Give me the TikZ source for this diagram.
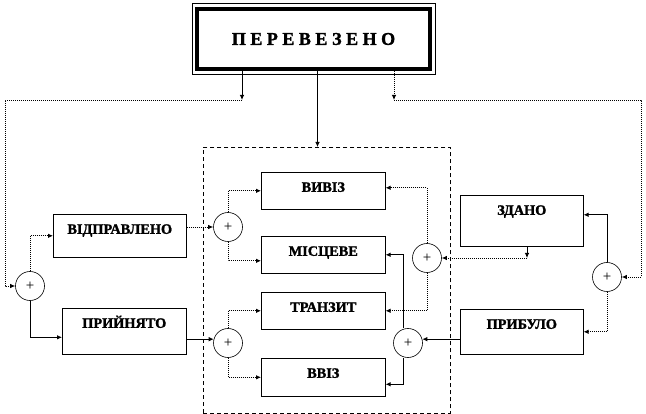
\documentclass[tikz,border=0pt]{standalone}
\usepackage{fontspec}
\setmainfont{Liberation Serif}[BoldFeatures={FakeBold=1.5}]
\newfontfamily\widefont{Liberation Serif}[LetterSpace=25,BoldFeatures={FakeBold=1.5}]
\usetikzlibrary{arrows.meta}

\begin{document}
\begin{tikzpicture}[%
  x=1pt, y=1pt,
  >={Latex[length=5pt,width=4.5pt]},
  line width=0.8pt,
  dots/.style={dash pattern=on 1pt off 1pt},
  block/.style={draw, line width=0.6pt, anchor=north west, inner sep=0pt,
    minimum width=124pt, text height=19.5pt,
    font=\bfseries\fontsize{14.3}{14.3}\selectfont},
  sum/.style={circle, draw, line width=0.6pt, minimum size=29pt, inner sep=0pt,
    font=\fontsize{15}{15}\selectfont}]
  \useasboundingbox (0,0) rectangle (646,-414);
  \node[draw, line width=4pt, minimum width=233pt, minimum height=60pt,
    font=\widefont\bfseries\fontsize{18}{18}\selectfont] (total) at (313.5,-39) {ПЕРЕВЕЗЕНО};
  \draw[line width=0.6pt] ([shift={(-3,3.5)}]total.north west) rectangle ([shift={(3,-3.5)}]total.south east);
  \node[draw, line width=0.6pt, dash pattern=on 4pt off 3pt, anchor=north west,
    minimum width=247pt, minimum height=266pt, inner sep=0pt] (frame) at (203,-147) {};
  \node[block, minimum width=133pt, text depth=23.5pt] (sent) at (53,-214) {ВІДПРАВЛЕНО};
  \node[block, text depth=26.5pt] (taken) at (62,-308) {ПРИЙНЯТО};
  \node[block, text depth=17.5pt] (export) at (261,-172) {ВИВІЗ};
  \node[block, text depth=17.5pt] (local) at (261,-236) {МІСЦЕВЕ};
  \node[block, text depth=17.5pt] (transit) at (261,-292) {ТРАНЗИТ};
  \node[block, text depth=18.5pt] (import) at (261,-358) {ВВІЗ};
  \node[block, minimum width=123pt, text depth=31.5pt] (handed) at (460,-195) {ЗДАНО};
  \node[block, minimum width=123pt, text depth=25.5pt] (arrived) at (460,-309) {ПРИБУЛО};
  \node[sum] (sumL) at (30,-286) {+};
  \node[sum] (sumA) at (228,-227) {+};
  \node[sum] (sumB) at (228,-343) {+};
  \node[sum] (sumC) at (427,-258) {+};
  \node[sum] (sumD) at (408,-343) {+};
  \node[sum] (sumR) at (607,-277) {+};
  \coordinate (forkL) at (242,-100);
  \coordinate (forkR) at (394,-100);
  \coordinate (edgeL) at (5,-100);
  \coordinate (edgeR) at (641,-100);
  \coordinate (drop) at (527,-258);
  \draw[->] (total.south -| forkL) -- (forkL);
  \draw[dots,->] (total.south -| forkR) -- (forkR);
  \draw[->] ([xshift=4pt]total.south) -- ([xshift=4pt]total.south |- frame.north);
  \draw[dots,->] (forkL) -- (edgeL) |- (sumL.west);
  \draw[dots,->] (forkR) -- (edgeR) |- (sumR.east);
  \draw[dots,->] (sumL.north) |- (sent.west);
  \draw[->] (sumL.south) |- ([yshift=-6pt]taken.west);
  \draw[dots,->] (sent.east |- sumA.west) -- (sumA.west);
  \draw[->] (taken.east |- sumB.165) -- (sumB.165);
  \draw[dots,->] (sumA.north) |- (export.west);
  \draw[dots,->] (sumA.south) |- ([yshift=-6pt]local.west);
  \draw[dots,->] (sumB.north) |- (transit.west);
  \draw[dots,->] (sumB.south) |- (import.west);
  \draw[dots,->] (sumC.north) |- ([yshift=3pt]export.east);
  \draw[dots,->] (sumC.south) |- (transit.east);
  \draw[->] ([xshift=-5pt]sumD.north) |- (local.east);
  \draw[->] ([xshift=-5pt]sumD.south) |- ([yshift=-7pt]import.east);
  \draw[->] (arrived.west |- sumD.15) -- (sumD.15);
  \draw[->] (handed.south -| drop) -- (drop);
  \draw[dots,->] (drop) -- (sumC.east);
  \draw[->] (sumR.north) |- ([yshift=6pt]handed.east);
  \draw[dots,->] (sumR.south) |- (arrived.east);
\end{tikzpicture}
\end{document}
